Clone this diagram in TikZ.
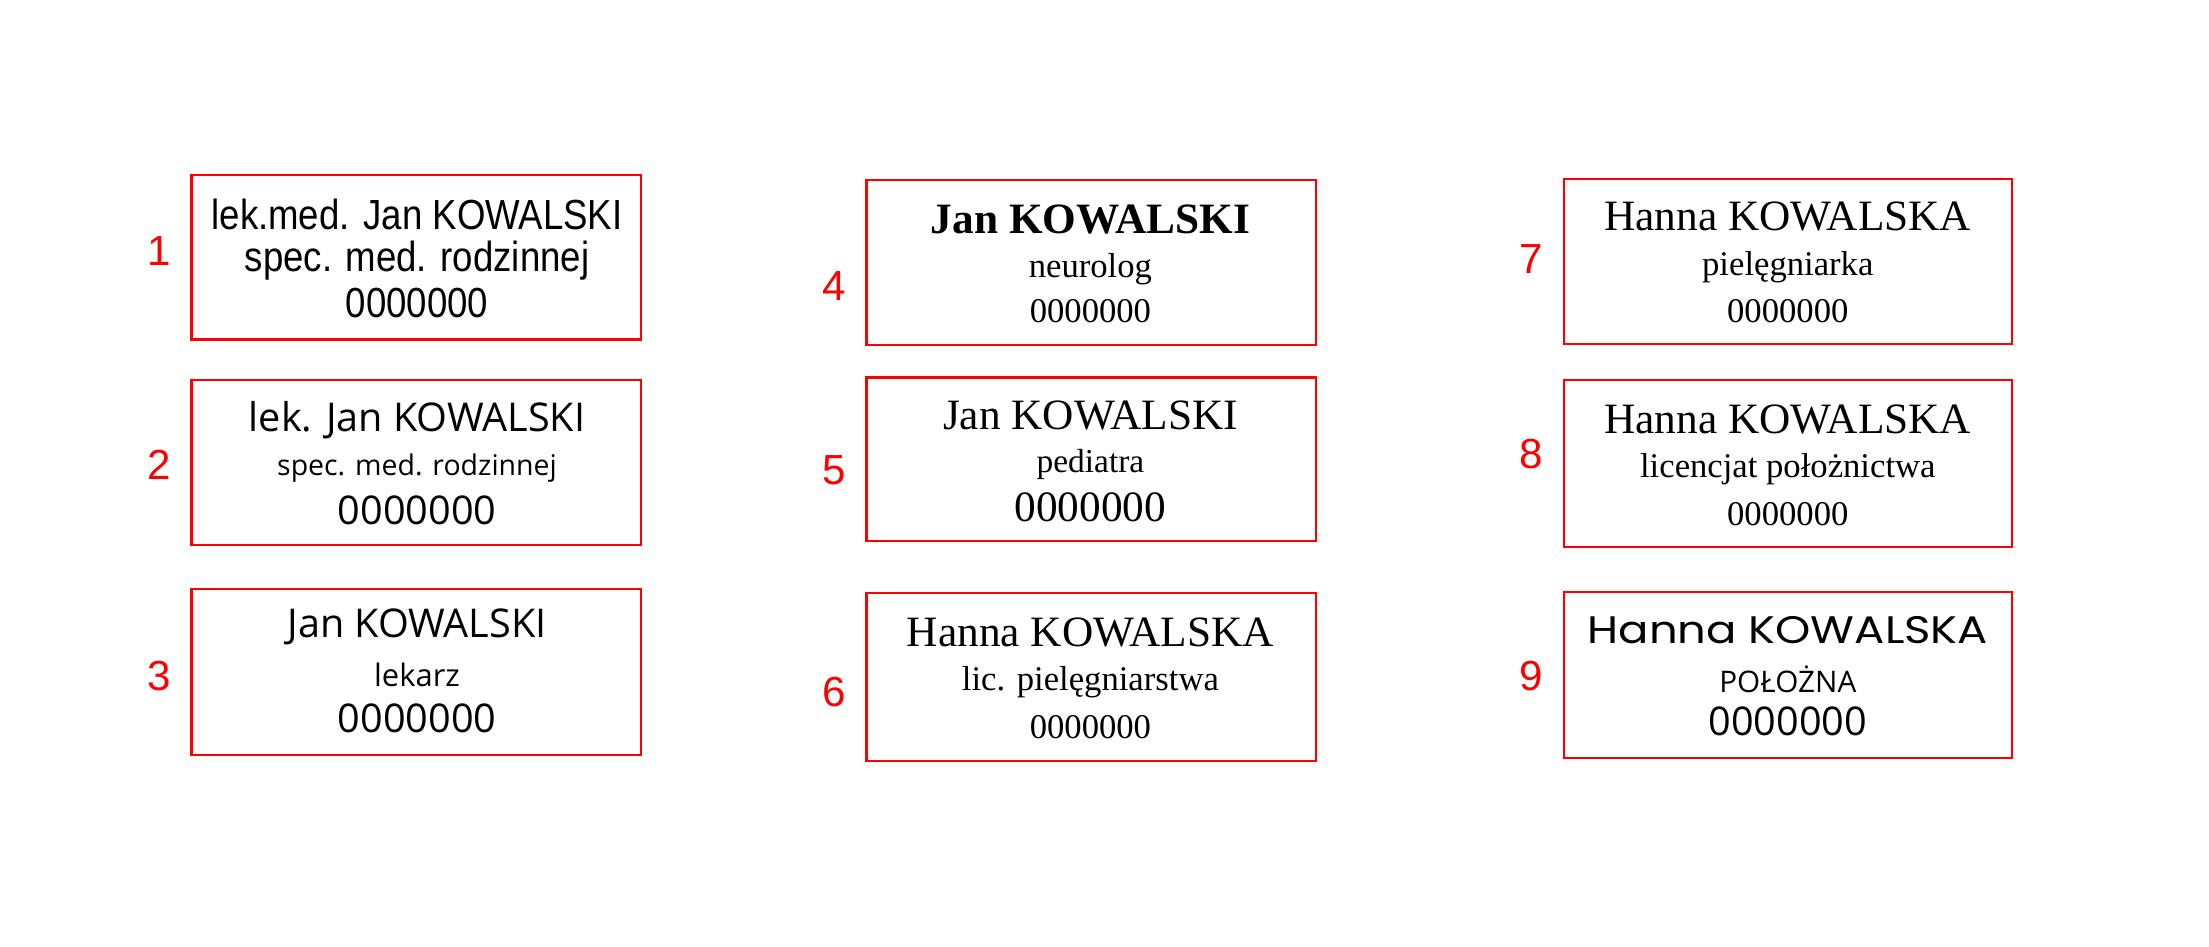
\documentclass[tikz,border=0pt]{standalone}
\usepackage{fontspec}
\setmainfont{Liberation Serif}
\newfontfamily\fsans{Liberation Sans}
\newfontfamily\fopen{Open Sans}
\newfontfamily\fpop{Poppins}
\newfontfamily\fser{Liberation Serif}
\begin{document}
\begin{tikzpicture}[x=0.02cm,y=-0.02cm,
  box/.style={draw=red,line width=0.9pt},
  num/.style={text=red,font=\fsans\fontsize{17}{20}\selectfont},
  t/.style={inner sep=0pt,anchor=center}]
\useasboundingbox (0,0) rectangle (1568,672);
% boxes
\draw[box] (136,124) rectangle (455,241);
\draw[box] (136,270) rectangle (455,387);
\draw[box] (136,418) rectangle (455,536);
\draw[box] (615,128) rectangle (934,245);
\draw[box] (615,268) rectangle (934,384);
\draw[box] (615,421) rectangle (934,540);
\draw[box] (1110,127) rectangle (1428,244);
\draw[box] (1110,270) rectangle (1428,388);
\draw[box] (1110,420) rectangle (1428,538);
% numbers
\node[num] (n1) at (113,178) {1};
\node[num] (n2) at (113,330) {2};
\node[num] (n3) at (113,480) {3};
\node[num] (n4) at (592,203) {4};
\node[num] (n5) at (592,334) {5};
\node[num] (n6) at (592,491) {6};
\node[num] (n7) at (1087,184) {7};
\node[num] (n8) at (1087,322) {8};
\node[num] (n9) at (1087,480) {9};
% 1
\node[t,font=\fsans\fontsize{17}{18}\selectfont,xscale=0.87] (a1) at (296,152) {lek.med. Jan KOWALSKI};
\node[t,font=\fsans\fontsize{17}{18}\selectfont,xscale=0.87] (a2) at (296,185) {spec. med. rodzinnej};
\node[t,font=\fsans\fontsize{17}{18}\selectfont,xscale=0.87] (a3) at (296,215) {0000000};
% 2
\node[t,font=\fopen\fontsize{16}{18}\selectfont] (b1) at (296,298) {lek. Jan KOWALSKI};
\node[t,font=\fopen\fontsize{11.5}{13}\selectfont] (b2) at (296,332) {spec. med. rodzinnej};
\node[t,font=\fopen\fontsize{16}{18}\selectfont] (b3) at (296,362) {0000000};
% 3
\node[t,font=\fopen\fontsize{16}{18}\selectfont] (c1) at (296,445) {Jan KOWALSKI};
\node[t,font=\fopen\fontsize{12.5}{14}\selectfont] (c2) at (296,479) {lekarz};
\node[t,font=\fopen\fontsize{16}{18}\selectfont] (c3) at (296,510) {0000000};
% 4
\node[t,font=\fser\bfseries\fontsize{17.5}{18}\selectfont] (d1) at (774,156) {Jan KOWALSKI};
\node[t,font=\fser\fontsize{14}{15}\selectfont] (d2) at (774,191) {neurolog};
\node[t,font=\fser\fontsize{14}{15}\selectfont] (d3) at (774,221) {0000000};
% 5
\node[t,font=\fser\fontsize{17.5}{18}\selectfont] (e1) at (774,295) {Jan KOWALSKI};
\node[t,font=\fser\fontsize{13.5}{15}\selectfont] (e2) at (774,330) {pediatra};
\node[t,font=\fser\fontsize{17.5}{18}\selectfont] (e3) at (774,360) {0000000};
% 6
\node[t,font=\fser\fontsize{17.5}{18}\selectfont] (f1) at (774,449) {Hanna KOWALSKA};
\node[t,font=\fser\fontsize{14}{15}\selectfont] (f2) at (774,484) {lic. pielęgniarstwa};
\node[t,font=\fser\fontsize{14}{15}\selectfont] (f3) at (774,516) {0000000};
% 7
\node[t,font=\fser\fontsize{17.5}{18}\selectfont] (g1) at (1269,154) {Hanna KOWALSKA};
\node[t,font=\fser\fontsize{14}{15}\selectfont] (g2) at (1269,190) {pielęgniarka};
\node[t,font=\fser\fontsize{14}{15}\selectfont] (g3) at (1269,221) {0000000};
% 8
\node[t,font=\fser\fontsize{17.5}{18}\selectfont] (h1) at (1269,298) {Hanna KOWALSKA};
\node[t,font=\fser\fontsize{14}{15}\selectfont] (h2) at (1269,333) {licencjat położnictwa};
\node[t,font=\fser\fontsize{14}{15}\selectfont] (h3) at (1269,365) {0000000};
% 9
\node[t,font=\fpop\fontsize{15.5}{18}\selectfont,xscale=1.17] (i1) at (1269,447) {Hanna KOWALSKA};
\node[t,font=\fopen\fontsize{12}{14}\selectfont] (i2) at (1269,482) {POŁOŻNA};
\node[t,font=\fopen\fontsize{16}{18}\selectfont] (i3) at (1269,512) {0000000};
\end{tikzpicture}
\end{document}
